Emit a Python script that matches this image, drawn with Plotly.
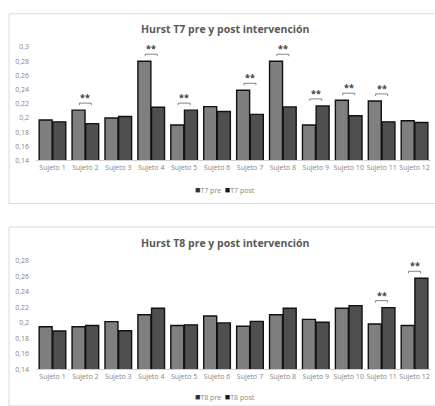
import plotly.graph_objects as go

subjects = ["Sujeto %d" % i for i in range(1, 13)]

t7_pre = [0.197, 0.211, 0.200, 0.280, 0.190, 0.216, 0.239, 0.280, 0.190, 0.225, 0.224, 0.196]
t7_post = [0.1945, 0.192, 0.202, 0.215, 0.211, 0.209, 0.205, 0.2156, 0.217, 0.203, 0.1945, 0.1935]
t7_sig = [2, 4, 5, 7, 8, 9, 10, 11]

t8_pre = [0.195, 0.195, 0.2017, 0.2105, 0.1966, 0.209, 0.1958, 0.2105, 0.2046, 0.219, 0.1987, 0.1966]
t8_post = [0.1895, 0.1966, 0.190, 0.219, 0.1975, 0.200, 0.202, 0.219, 0.2008, 0.2223, 0.2197, 0.2576]
t8_sig = [11, 12]

W, H = 435, 406
PRE_COL = "#7f7f7f"
POST_COL = "#4f4f4f"
TXT = "#595959"
TICK = "#858585"
FONT = "Open Sans"

def py(px):
    return (H - px) / H

fig = go.Figure()

line = dict(color="#111", width=1.4)
fig.add_trace(go.Bar(x=subjects, y=t7_pre, name="T7 pre", marker=dict(color=PRE_COL, line=line), xaxis="x", yaxis="y"))
fig.add_trace(go.Bar(x=subjects, y=t7_post, name="T7 post", marker=dict(color=POST_COL, line=line), xaxis="x", yaxis="y"))
fig.add_trace(go.Bar(x=subjects, y=t8_pre, name="T8 pre", marker=dict(color=PRE_COL, line=line), xaxis="x2", yaxis="y2"))
fig.add_trace(go.Bar(x=subjects, y=t8_post, name="T8 post", marker=dict(color=POST_COL, line=line), xaxis="x2", yaxis="y2"))

shapes = []
annotations = []

def add_sig(sig, pre, post, xr, yr):
    for s in sig:
        i = s - 1
        top = max(pre[i], post[i])
        annotations.append(dict(x=subjects[i], y=top, xref=xr, yref=yr, text="<b>**</b>", showarrow=False,
                                yanchor="bottom", yshift=4, font=dict(size=9, color="#404040", family=FONT)))
        base = dict(xref=xr, yref=yr, xsizemode="pixel", ysizemode="pixel", xanchor=i, yanchor=top,
                    line=dict(color="#666", width=0.8))
        shapes.append(dict(type="line", x0=-6, x1=6, y0=7, y1=7, **base))
        shapes.append(dict(type="line", x0=-6, x1=-6, y0=7, y1=5, **base))
        shapes.append(dict(type="line", x0=6, x1=6, y0=7, y1=5, **base))

add_sig(t7_sig, t7_pre, t7_post, "x", "y")
add_sig(t8_sig, t8_pre, t8_post, "x2", "y2")

# panel borders
shapes.append(dict(type="rect", xref="paper", yref="paper", x0=9/W, x1=1.01, y0=py(203), y1=py(9),
                   line=dict(color="#d9d9d9", width=1), layer="below"))
shapes.append(dict(type="rect", xref="paper", yref="paper", x0=9/W, x1=1.01, y0=-0.01, y1=py(227),
                   line=dict(color="#d9d9d9", width=1), layer="below"))

annotations.append(dict(text="<b>Hurst T7 pre y post intervención</b>", x=225/W, y=py(25), xref="paper", yref="paper",
                        xanchor="center", yanchor="middle",
                        showarrow=False, font=dict(size=10.5, color=TXT, family=FONT)))
annotations.append(dict(text="<b>Hurst T8 pre y post intervención</b>", x=225/W, y=py(243), xref="paper", yref="paper",
                        xanchor="center", yanchor="middle",
                        showarrow=False, font=dict(size=10.5, color=TXT, family=FONT)))

# compact legends (Excel style)
def legend_text(pre_name, post_name):
    return ("<span style='color:#333333;font-size:9px'>■</span>" + pre_name +
            "  <span style='color:#1a1a1a;font-size:9px'>■</span>" + post_name)

annotations.append(dict(text=legend_text(fig.data[0].name, fig.data[1].name), x=225/W, y=py(189),
                        xref="paper", yref="paper", xanchor="center", yanchor="middle", showarrow=False,
                        font=dict(size=7, color=TICK, family=FONT)))
annotations.append(dict(text=legend_text(fig.data[2].name, fig.data[3].name), x=225/W, y=py(400),
                        xref="paper", yref="paper", xanchor="center", yanchor="middle", showarrow=False,
                        font=dict(size=7, color=TICK, family=FONT)))

xdom = [36/W, 431/W]
axfont = dict(size=7, color=TICK, family=FONT)
xcommon = dict(domain=xdom, tickfont=axfont, showline=True, linecolor="#d0d0d0", ticks="", showgrid=False, fixedrange=True)
ycommon = dict(tickfont=axfont, showline=False, showgrid=False, zeroline=False, dtick=0.02, ticks="", ticklabelstandoff=6)

fig.update_layout(
    width=W, height=H,
    margin=dict(l=0, r=0, t=0, b=0),
    paper_bgcolor="white", plot_bgcolor="white",
    separators=",.",
    barmode="group", bargap=0.17, bargroupgap=0.05,
    xaxis=dict(anchor="y", **xcommon),
    xaxis2=dict(anchor="y2", **xcommon),
    yaxis=dict(domain=[py(159), py(43)], range=[0.14, 0.30], anchor="x", **ycommon),
    yaxis2=dict(domain=[py(372.7), py(261.7)], range=[0.14, 0.28], anchor="x2", **ycommon),
    shapes=shapes,
    annotations=annotations,
    showlegend=False,
)

fig.write_html("out.html", config={"displayModeBar": False},
               post_script="document.body.style.margin='0';document.body.style.overflow='hidden';")
